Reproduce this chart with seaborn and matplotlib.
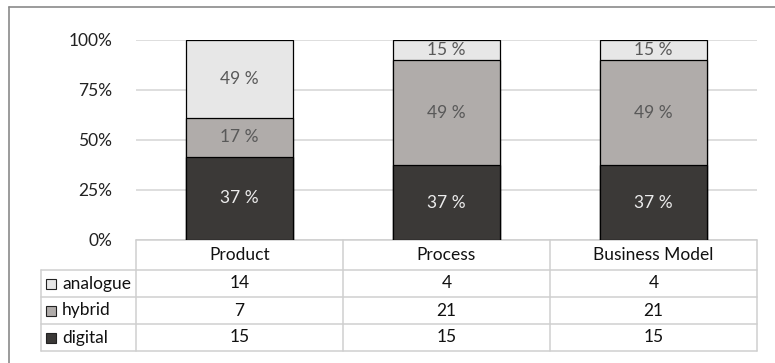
import matplotlib
matplotlib.use("Agg")
import matplotlib.pyplot as plt
import seaborn as sns
import pandas as pd
import numpy as np
from matplotlib.patches import Rectangle
from matplotlib.lines import Line2D

categories = ["Product", "Process", "Business Model"]
series = ["analogue", "hybrid", "digital"]
analogue = [14, 4, 4]
hybrid = [7, 21, 21]
digital = [15, 15, 15]
analogue_labels = ["49 %", "15 %", "15 %"]
hybrid_labels = ["17 %", "49 %", "49 %"]
digital_labels = ["37 %", "37 %", "37 %"]
yticks = [0, 0.25, 0.5, 0.75, 1.0]
ytick_labels = ["0%", "25%", "50%", "75%", "100%"]

colors = {"analogue": "#e7e7e7", "hybrid": "#b0acaa", "digital": "#3b3937"}
text_colors = {"analogue": "#595959", "hybrid": "#595959", "digital": "#ececec"}

sns.set_theme(style="white")
plt.rcParams["font.family"] = ["Lato", "DejaVu Sans"]
FS = 12.5

W, H = 775, 363
fig = plt.figure(figsize=(W / 100, H / 100), dpi=100)
ax_l, ax_r, ax_t, ax_b = 136, 757, 40, 240
ax = fig.add_axes([ax_l / W, 1 - ax_b / H, (ax_r - ax_l) / W, (ax_b - ax_t) / H])

tot = np.array(analogue) + np.array(hybrid) + np.array(digital)
df = pd.DataFrame({
    "category": categories,
    "digital": np.array(digital) / tot,
    "hybrid": np.array(hybrid) / tot,
    "analogue": np.array(analogue) / tot,
})
df["cum_hybrid"] = df["digital"] + df["hybrid"]
df["cum_analogue"] = df["cum_hybrid"] + df["analogue"]

for col, s in [("cum_analogue", "analogue"), ("cum_hybrid", "hybrid"), ("digital", "digital")]:
    sns.barplot(data=df, x="category", y=col, order=categories, color=colors[s],
                saturation=1, width=0.515, edgecolor="black", linewidth=0.9, ax=ax, zorder=3)

ax.set_xlim(-0.5, 2.5)
ax.set_ylim(0, 1)
ax.set_yticks(yticks)
ax.set_yticklabels(ytick_labels, fontsize=FS, color="#222222")
ax.tick_params(axis="y", length=0, pad=17)
ax.set_xticks([])
ax.set_xlabel("")
ax.set_ylabel("")
for sp in ax.spines.values():
    sp.set_visible(False)
ax.yaxis.grid(True, color="#d4d4d4", linewidth=1.1)
ax.set_axisbelow(True)

# segment labels
for i in range(len(categories)):
    d = df["digital"][i]
    h = df["hybrid"][i]
    a = df["analogue"][i]
    ax.text(i, d / 2, digital_labels[i], ha="center", va="center", fontsize=FS,
            color=text_colors["digital"], zorder=5)
    ax.text(i, d + h / 2, hybrid_labels[i], ha="center", va="center", fontsize=FS,
            color=text_colors["hybrid"], zorder=5)
    ax.text(i, d + h + a / 2, analogue_labels[i], ha="center", va="center", fontsize=FS,
            color=text_colors["analogue"], zorder=5)

# data table below
gc = "#cfcfcf"
plot_h = ax_b - ax_t
hdr = 30 / plot_h
rowh = 27 / plot_h
left_col = (41 - ax_l) / (ax_r - ax_l)
tr = ax.transAxes
ys = [0, -hdr, -hdr - rowh, -hdr - 2 * rowh, -hdr - 3 * rowh]
ax.add_line(Line2D([0, 1], [0, 0], transform=tr, color=gc, lw=1.1, clip_on=False))
for y in ys[1:]:
    ax.add_line(Line2D([left_col, 1], [y, y], transform=tr, color=gc, lw=1.1, clip_on=False))
for k in range(4):
    x = k / 3
    ax.add_line(Line2D([x, x], [0, ys[-1]], transform=tr, color=gc, lw=1.1, clip_on=False))
ax.add_line(Line2D([left_col, left_col], [ys[1], ys[-1]], transform=tr, color=gc, lw=1.1, clip_on=False))

blend = matplotlib.transforms.blended_transform_factory(ax.transData, ax.transAxes)
for i, c in enumerate(categories):
    ax.text(i, (ys[0] + ys[1]) / 2, c, ha="center", va="center", fontsize=FS,
            color="#111111", transform=blend, clip_on=False)
vals = {"analogue": analogue, "hybrid": hybrid, "digital": digital}
for r, s in enumerate(series):
    yc = (ys[r + 1] + ys[r + 2]) / 2
    for i in range(len(categories)):
        ax.text(i, yc, str(vals[s][i]), ha="center", va="center", fontsize=FS,
                color="#111111", transform=blend, clip_on=False)
    kx0 = (46 - ax_l) / (ax_r - ax_l)
    kw = 10 / (ax_r - ax_l)
    kh = 10 / plot_h
    ax.add_patch(Rectangle((kx0, yc - kh / 2), kw, kh, transform=tr, facecolor=colors[s],
                           edgecolor="#222222", lw=0.8, clip_on=False))
    ax.text((62 - ax_l) / (ax_r - ax_l), yc, s, ha="left", va="center", fontsize=FS,
            color="#111111", transform=tr, clip_on=False)

# outer frame (partially cut)
fig.add_artist(Line2D([9 / W, 1.0], [1 - 7 / H, 1 - 7 / H], transform=fig.transFigure,
                      color="#8a8a8a", lw=1.2))
fig.add_artist(Line2D([9 / W, 9 / W], [1 - 7 / H, 0], transform=fig.transFigure,
                      color="#8a8a8a", lw=1.2))

fig.savefig("out.png", dpi=100)
